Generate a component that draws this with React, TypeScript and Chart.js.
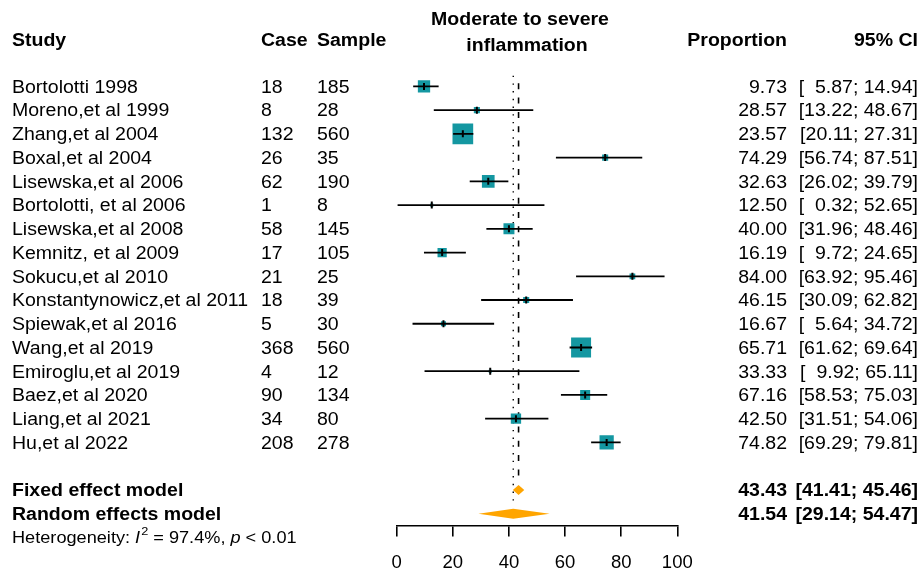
import React, { useEffect, useRef } from "react";
import { Chart, registerables } from "chart.js";

Chart.register(...registerables);

// ---------------- data ----------------
const studies = [
  "Bortolotti 1998",
  "Moreno,et al 1999",
  "Zhang,et al 2004",
  "Boxal,et al 2004",
  "Lisewska,et al 2006",
  "Bortolotti, et al 2006",
  "Lisewska,et al 2008",
  "Kemnitz, et al 2009",
  "Sokucu,et al 2010",
  "Konstantynowicz,et al 2011",
  "Spiewak,et al 2016",
  "Wang,et al 2019",
  "Emiroglu,et al 2019",
  "Baez,et al 2020",
  "Liang,et al 2021",
  "Hu,et al 2022",
];
const cases = [18, 8, 132, 26, 62, 1, 58, 17, 21, 18, 5, 368, 4, 90, 34, 208];
const samples = [185, 28, 560, 35, 190, 8, 145, 105, 25, 39, 30, 560, 12, 134, 80, 278];
const proportion = [9.73, 28.57, 23.57, 74.29, 32.63, 12.5, 40.0, 16.19, 84.0, 46.15, 16.67, 65.71, 33.33, 67.16, 42.5, 74.82];
const ciLower = [5.87, 13.22, 20.11, 56.74, 26.02, 0.32, 31.96, 9.72, 63.92, 30.09, 5.64, 61.62, 9.92, 58.53, 31.51, 69.29];
const ciUpper = [14.94, 48.67, 27.31, 87.51, 39.79, 52.65, 48.46, 24.65, 95.46, 62.82, 34.72, 69.64, 65.11, 75.03, 54.06, 79.81];
// relative study weights (%) as read from square areas
const weights = [7.8, 1.9, 22.1, 1.9, 8.3, 0.5, 6.2, 4.4, 1.7, 1.9, 1.3, 20.6, 0.5, 5.2, 5.5, 10.5];

const fixedModel = { label: "Fixed effect model", est: 43.43, lo: 41.41, hi: 45.46 };
const randomModel = { label: "Random effects model", est: 41.54, lo: 29.14, hi: 54.47 };
const heterogeneity = { i2: "97.4%", p: "0.01" };
const xTickValues = [0, 20, 40, 60, 80, 100];

const headerTitle = ["Moderate to severe", "inflammation"];
const headerCols = { study: "Study", cases: "Case", sample: "Sample", prop: "Proportion", ci: "95% CI" };

// ---------------- style / layout ----------------
const FONT = '"Liberation Sans", Arial, Helvetica, sans-serif';
const FS = 17.5;
const SX = 1.115;
const TEAL = "#1497a1";
const ORANGE = "#FFA500";
const SQUARE_K = 4.4;
const FIXED_ROW = 17;
const RANDOM_ROW = 18;
const HET_ROW = 19;
const TEXT_DY = 1.5;

function fmt(v: number) {
  const s = v.toFixed(2);
  return v < 10 ? "\u2007" + s : s;
}

function drawText(
  ctx: CanvasRenderingContext2D,
  text: string,
  x: number,
  y: number,
  align: "left" | "right" | "center",
  weight = "normal",
  size = FS,
  style = "normal"
) {
  ctx.save();
  ctx.font = `${style} ${weight} ${size}px ${FONT}`;
  ctx.textBaseline = "middle";
  ctx.textAlign = "left";
  const w = ctx.measureText(text).width * SX;
  let left = x;
  if (align === "right") left = x - w;
  else if (align === "center") left = x - w / 2;
  ctx.translate(left, y + TEXT_DY);
  ctx.scale(SX, 1);
  ctx.fillStyle = "#000";
  ctx.fillText(text, 0, 0);
  ctx.restore();
  return w;
}

const forestPlugin = {
  id: "forestPlugin",
  afterDatasetsDraw(chart: any) {
    const ctx: CanvasRenderingContext2D = chart.ctx;
    const xs = chart.scales.x;
    const ys = chart.scales.y;
    const diamond = (m: { est: number; lo: number; hi: number }, row: number) => {
      const yc = ys.getPixelForValue(row);
      const h = 5;
      ctx.save();
      ctx.beginPath();
      ctx.moveTo(xs.getPixelForValue(m.lo), yc);
      ctx.lineTo(xs.getPixelForValue(m.est), yc - h);
      ctx.lineTo(xs.getPixelForValue(m.hi), yc);
      ctx.lineTo(xs.getPixelForValue(m.est), yc + h);
      ctx.closePath();
      ctx.fillStyle = ORANGE;
      ctx.fill();
      ctx.restore();
    };
    diamond(fixedModel, FIXED_ROW);
    diamond(randomModel, RANDOM_ROW);
  },
  afterDraw(chart: any) {
    const ctx: CanvasRenderingContext2D = chart.ctx;
    const ys = chart.scales.y;
    const X_STUDY = 12, X_CASE = 261, X_SAMPLE = 317, X_PROP = 787, X_CI = 918;
    // headers
    drawText(ctx, headerTitle[0], 520, 19, "center", "bold");
    drawText(ctx, headerTitle[1], 527, 45, "center", "bold");
    const hy = 40;
    drawText(ctx, headerCols.study, X_STUDY, hy, "left", "bold");
    drawText(ctx, headerCols.cases, X_CASE, hy, "left", "bold");
    drawText(ctx, headerCols.sample, X_SAMPLE, hy, "left", "bold");
    drawText(ctx, headerCols.prop, X_PROP, hy, "right", "bold");
    drawText(ctx, headerCols.ci, X_CI, hy, "right", "bold");
    // rows
    studies.forEach((s, i) => {
      const y = ys.getPixelForValue(i);
      drawText(ctx, s, X_STUDY, y, "left");
      drawText(ctx, String(cases[i]), X_CASE, y, "left");
      drawText(ctx, String(samples[i]), X_SAMPLE, y, "left");
      drawText(ctx, proportion[i].toFixed(2), X_PROP, y, "right");
      drawText(ctx, `[${fmt(ciLower[i])}; ${fmt(ciUpper[i])}]`, X_CI, y, "right");
    });
    [
      [fixedModel, FIXED_ROW],
      [randomModel, RANDOM_ROW],
    ].forEach(([m, row]: any) => {
      const y = ys.getPixelForValue(row);
      drawText(ctx, m.label, X_STUDY, y, "left", "bold");
      drawText(ctx, m.est.toFixed(2), X_PROP, y, "right", "bold");
      drawText(ctx, `[${fmt(m.lo)}; ${fmt(m.hi)}]`, X_CI, y, "right", "bold");
    });
    // heterogeneity
    const hY = ys.getPixelForValue(HET_ROW);
    const hs = 16.3;
    let x = X_STUDY;
    x += drawText(ctx, "Heterogeneity: ", x, hY, "left", "normal", hs);
    x += drawText(ctx, "I", x, hY, "left", "normal", hs, "italic");
    x += drawText(ctx, "2", x + 1, hY - 7, "left", "normal", hs * 0.7) + 1;
    x += drawText(ctx, ` = ${heterogeneity.i2}, `, x, hY, "left", "normal", hs);
    x += drawText(ctx, "p", x, hY, "left", "normal", hs, "italic");
    drawText(ctx, ` < ${heterogeneity.p}`, x, hY, "left", "normal", hs);
  },
};

export default function App() {
  const ref = useRef<HTMLCanvasElement | null>(null);
  useEffect(() => {
    if (!ref.current) return;
    const datasets: any[] = [];
    // reference lines
    datasets.push({
      type: "line",
      data: [
        { x: fixedModel.est, y: -0.13 },
        { x: fixedModel.est, y: 16.4 },
      ],
      borderColor: "#000",
      borderWidth: 1.6,
      borderDash: [6, 8.3],
      pointRadius: 0,
      order: 5,
    });
    datasets.push({
      type: "line",
      data: [
        { x: randomModel.est, y: -0.45 },
        { x: randomModel.est, y: 17.65 },
      ],
      borderColor: "#000",
      borderWidth: 1.4,
      borderDash: [1.4, 6.3],
      pointRadius: 0,
      order: 5,
    });
    // squares
    datasets.push({
      type: "scatter",
      data: proportion.map((p, i) => ({ x: p, y: i })),
      pointStyle: "rect",
      pointRadius: weights.map((w) => (SQUARE_K * Math.sqrt(w)) / Math.SQRT2),
      backgroundColor: TEAL,
      borderWidth: 0,
      order: 4,
    });
    // CI lines
    studies.forEach((_, i) => {
      datasets.push({
        type: "line",
        data: [
          { x: ciLower[i], y: i },
          { x: ciUpper[i], y: i },
        ],
        borderColor: "#000",
        borderWidth: 1.8,
        pointRadius: 0,
        order: 2,
      });
    });
    // estimate marks
    datasets.push({
      type: "scatter",
      data: proportion.map((p, i) => ({ x: p, y: i })),
      pointStyle: "line",
      rotation: 90,
      pointRadius: 3.5,
      borderColor: "#000",
      borderWidth: 2,
      order: 1,
    });

    const chart = new Chart(ref.current, {
      type: "scatter",
      data: { datasets },
      plugins: [forestPlugin],
      options: {
        animation: false,
        responsive: false,
        events: [],
        layout: { padding: { left: 396.7, right: 244.7, top: 15.2, bottom: 0 } },
        plugins: { legend: { display: false }, tooltip: { enabled: false } },
        scales: {
          x: {
            type: "linear",
            min: 0,
            max: 100,
            afterBuildTicks: (scale: any) => {
              scale.ticks = xTickValues.map((v) => ({ value: v }));
            },
            afterFit: (scale: any) => {
              scale.height = 45.5;
            },
            ticks: {
              color: "#000",
              padding: 15,
              font: { family: FONT, size: 18.5 },
              maxRotation: 0,
            },
            grid: {
              drawOnChartArea: false,
              drawTicks: true,
              tickLength: 11,
              color: "#000",
              lineWidth: 1.6,
            },
            border: { display: true, color: "#000", width: 1.6 },
          },
          y: {
            type: "linear",
            reverse: true,
            min: -3,
            max: 18.5,
            display: false,
          },
        },
      } as any,
    });
    return () => chart.destroy();
  }, []);
  return (
    <div style={{ position: "absolute", left: 0, top: 0, width: 922, height: 571, background: "#fff" }}>
      <canvas ref={ref} width={922} height={571} style={{ display: "block" }} />
    </div>
  );
}
